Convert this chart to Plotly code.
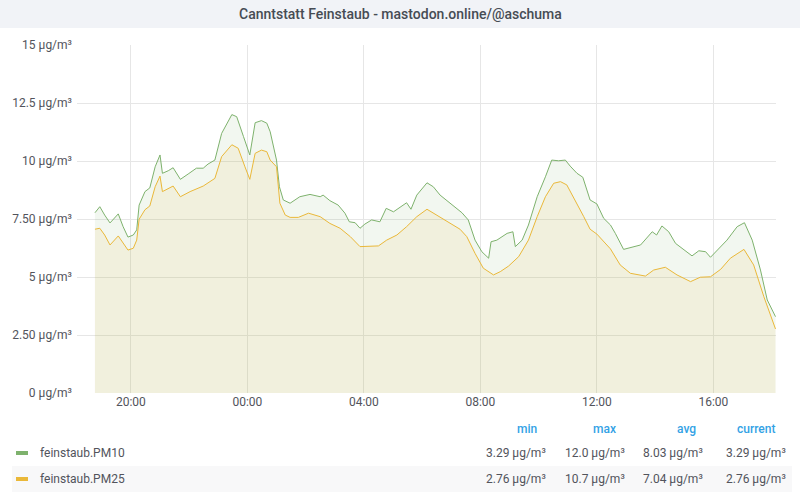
import datetime as dt
import plotly.graph_objects as go

# ---- data ----
pm10_time = ["18:46", "18:56", "19:06", "19:17", "19:34", "19:44", "19:54", "20:05", "20:12", "20:17",
             "20:29", "20:39", "20:50", "21:00", "21:05", "21:17", "21:27", "21:42", "21:58", "22:15",
             "22:29", "22:39", "22:53", "23:07", "23:28", "23:38", "23:52", "00:05", "00:16", "00:29",
             "00:40", "00:47", "01:00", "01:06", "01:14", "01:28", "01:48", "02:09", "02:30", "02:36",
             "02:50", "03:07", "03:21", "03:30", "03:42", "03:52", "04:02", "04:16", "04:33", "04:46",
             "05:01", "05:15", "05:28", "05:37", "05:49", "06:10", "06:23", "06:37", "06:58", "07:12",
             "07:22", "07:35", "07:49", "08:03", "08:17", "08:22", "08:34", "08:55", "09:07", "09:12",
             "09:26", "09:39", "09:57", "10:14", "10:27", "10:41", "10:55", "11:05", "11:19", "11:31",
             "11:46", "12:00", "12:14", "12:28", "12:38", "12:55", "13:12", "13:30", "13:54", "14:03",
             "14:14", "14:28", "14:42", "14:56", "15:16", "15:30", "15:44", "15:54", "16:11", "16:28",
             "16:49", "17:04", "17:20", "17:37", "17:51", "18:08"]
pm10 = [7.77, 8.03, 7.67, 7.33, 7.72, 7.17, 6.72, 6.81, 7.03, 8.10,
        8.68, 8.84, 9.75, 10.26, 9.47, 9.58, 9.71, 9.21, 9.44, 9.69,
        9.69, 9.87, 10.04, 11.19, 12.0, 11.91, 11.05, 10.26, 11.65, 11.74,
        11.63, 11.26, 10.04, 8.89, 8.32, 8.18, 8.46, 8.56, 8.46, 8.53,
        8.29, 8.10, 7.75, 7.38, 7.34, 7.10, 7.28, 7.46, 7.38, 7.96,
        7.81, 8.03, 8.20, 7.92, 8.53, 9.06, 8.89, 8.53, 8.18, 7.96,
        7.77, 7.46, 6.59, 6.09, 5.81, 6.52, 6.59, 6.88, 6.95, 6.31,
        6.59, 7.24, 8.46, 9.32, 10.04, 10.01, 10.04, 9.78, 9.47, 9.30,
        8.32, 8.15, 7.53, 7.24, 6.88, 6.19, 6.28, 6.38, 6.95, 6.81,
        7.20, 6.95, 6.45, 6.24, 5.91, 6.13, 6.09, 5.85, 6.24, 6.59,
        7.17, 7.34, 6.59, 5.30, 4.01, 3.29]

pm25_time = ["18:46", "18:56", "19:06", "19:17", "19:34", "19:44", "19:54", "20:05", "20:12", "20:17",
             "20:29", "20:39", "20:50", "21:00", "21:05", "21:27", "21:42", "22:02", "22:29", "22:53",
             "23:07", "23:28", "23:41", "23:55", "00:05", "00:16", "00:29", "00:40", "00:47", "01:00",
             "01:07", "01:18", "01:28", "01:45", "02:06", "02:30", "02:50", "03:11", "03:32", "03:52",
             "04:13", "04:30", "04:47", "05:08", "05:28", "05:49", "06:10", "06:23", "06:37", "06:58",
             "07:18", "07:32", "07:49", "08:06", "08:27", "08:41", "08:58", "09:19", "09:39", "09:57",
             "10:14", "10:31", "10:45", "10:58", "11:19", "11:33", "11:46", "12:00", "12:28", "12:48",
             "13:09", "13:40", "13:57", "14:21", "14:45", "15:13", "15:33", "15:54", "16:15", "16:35",
             "17:03", "17:23", "17:44", "18:08"]
pm25 = [7.06, 7.10, 6.81, 6.38, 6.77, 6.45, 6.16, 6.24, 6.59, 7.49,
        7.90, 8.06, 8.89, 9.35, 8.68, 8.92, 8.46, 8.68, 8.92, 9.25,
        10.19, 10.7, 10.55, 9.75, 9.21, 10.33, 10.47, 10.40, 10.04, 9.75,
        8.18, 7.67, 7.57, 7.57, 7.75, 7.60, 7.31, 7.10, 6.74, 6.31,
        6.31, 6.34, 6.59, 6.81, 7.17, 7.60, 7.92, 7.75, 7.57, 7.31,
        7.06, 6.74, 6.02, 5.38, 5.09, 5.23, 5.47, 5.88, 6.59, 7.60,
        8.46, 9.04, 9.11, 8.97, 8.18, 7.60, 7.06, 6.85, 6.21, 5.52,
        5.16, 5.04, 5.30, 5.42, 5.09, 4.80, 4.99, 5.01, 5.33, 5.81,
        6.19, 5.52, 4.15, 2.76]

series_names = ["feinstaub.PM10", "feinstaub.PM25"]
stat_headers = ["min", "max", "avg", "current"]
pm10_stats = ["3.29 µg/m³", "12.0 µg/m³", "8.03 µg/m³", "3.29 µg/m³"]
pm25_stats = ["2.76 µg/m³", "10.7 µg/m³", "7.04 µg/m³", "2.76 µg/m³"]

y_ticks = [0, 2.5, 5, 7.5, 10, 12.5, 15]
y_ticktext = ["0 µg/m³", "2.50 µg/m³", "5 µg/m³", "7.50 µg/m³", "10 µg/m³", "12.5 µg/m³", "15 µg/m³"]

title = "Canntstatt Feinstaub - mastodon.online/@aschuma"

# ---- helpers ----
DAY0 = dt.date(2019, 11, 20)


def to_dt(times):
    # times are HH:MM over one night, roll the day when the clock wraps
    out, day, prev = [], DAY0, None
    for t in times:
        h, m = map(int, t.split(":"))
        if prev is not None and h * 60 + m < prev:
            day = day + dt.timedelta(days=1)
        prev = h * 60 + m
        out.append(dt.datetime(day.year, day.month, day.day, h, m))
    return out


W, H = 800, 500
L, R, T, B = 77, 24, 45, 107
PW, PH = W - L - R, H - T - B


def px_x(px):
    return (px - L) / PW


def px_y(py):
    return (H - B - py) / PH


GREEN = "#7eb26d"
YELLOW = "#eab839"
TXT = "#52545c"
BLUE = "#33a2e5"
FONT = "Roboto"

fig = go.Figure()
fig.add_trace(go.Scatter(x=to_dt(pm10_time), y=pm10, mode="lines",
                         line=dict(color=GREEN, width=1), fill="tozeroy",
                         fillcolor="rgba(126,178,109,0.1)", name=series_names[0]))
fig.add_trace(go.Scatter(x=to_dt(pm25_time), y=pm25, mode="lines",
                         line=dict(color=YELLOW, width=1), fill="tozeroy",
                         fillcolor="rgba(234,184,57,0.1)", name=series_names[1]))

start = dt.datetime(DAY0.year, DAY0.month, DAY0.day, 18, 9)
end = start + dt.timedelta(hours=24)

fig.update_xaxes(type="date", range=[start, end], tickformat="%H:%M",
                 tick0=dt.datetime(DAY0.year, DAY0.month, DAY0.day, 0, 0), dtick=4 * 3600 * 1000,
                 showgrid=True, gridcolor="#e6e6e6", gridwidth=1, zeroline=False, showline=False,
                 tickfont=dict(family=FONT, size=12, color=TXT), ticks="")
fig.update_yaxes(range=[0, 15], tickvals=y_ticks, ticktext=y_ticktext,
                 showgrid=True, gridcolor="#e6e6e6", gridwidth=1, zeroline=False, showline=False,
                 tickfont=dict(family=FONT, size=12, color=TXT), ticks="", ticklabelstandoff=4)

shapes = []
# title bar
shapes.append(dict(type="rect", xref="paper", yref="paper", x0=px_x(0), x1=px_x(800),
                   y0=px_y(28), y1=px_y(0), fillcolor="#f1f3f7", line=dict(width=0), layer="below"))
# shaded second legend row
shapes.append(dict(type="rect", xref="paper", yref="paper", x0=px_x(12), x1=px_x(792),
                   y0=px_y(492), y1=px_y(466), fillcolor="#f8f8f9", line=dict(width=0), layer="below"))

annotations = [dict(text=title, xref="paper", yref="paper", x=px_x(400), y=px_y(14),
                    xanchor="center", yanchor="middle", showarrow=False,
                    font=dict(family=FONT, size=14, color="#464c54", weight=500))]

head_right = [539, 618, 698, 777]
val_right = [548, 627, 705, 788]
for hx, h in zip(head_right, stat_headers):
    annotations.append(dict(text=h, xref="paper", yref="paper", x=px_x(hx), y=px_y(429),
                            xanchor="right", yanchor="middle", showarrow=False,
                            font=dict(family=FONT, size=12, color=BLUE, weight=500)))

rows = [(453, GREEN, series_names[0], pm10_stats), (479, YELLOW, series_names[1], pm25_stats)]
for ry, col, name, stats in rows:
    shapes.append(dict(type="rect", xref="paper", yref="paper", x0=px_x(16), x1=px_x(28),
                       y0=px_y(ry + 2), y1=px_y(ry - 2), fillcolor=col, line=dict(width=0)))
    annotations.append(dict(text=name, xref="paper", yref="paper", x=px_x(38), y=px_y(ry),
                            xanchor="left", yanchor="middle", showarrow=False,
                            font=dict(family=FONT, size=12, color=TXT)))
    for vx, s in zip(val_right, stats):
        annotations.append(dict(text=s, xref="paper", yref="paper", x=px_x(vx), y=px_y(ry),
                                xanchor="right", yanchor="middle", showarrow=False,
                                font=dict(family=FONT, size=12, color=TXT)))

fig.update_layout(width=W, height=H, margin=dict(l=L, r=R, t=T, b=B),
                  paper_bgcolor="white", plot_bgcolor="white", showlegend=False,
                  shapes=shapes, annotations=annotations, hovermode=False)

# drop the browser's default 8px body margin so the figure sits at 0,0
fig.write_html("out.html", config={"displayModeBar": False},
               post_script="document.body.style.margin='0';")
